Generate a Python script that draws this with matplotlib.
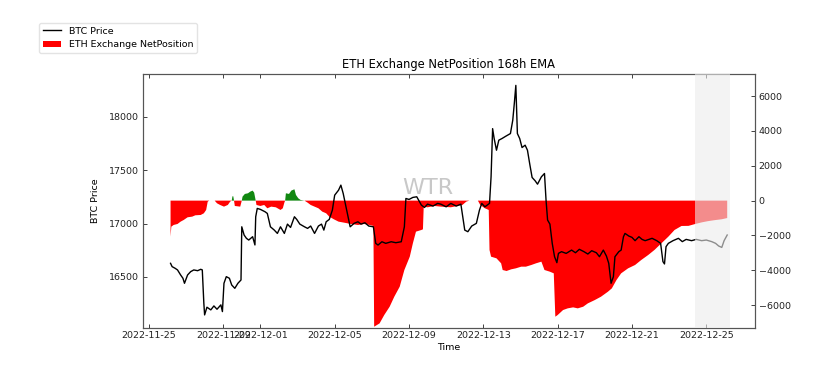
import matplotlib
matplotlib.use("Agg")
import matplotlib.pyplot as plt
import matplotlib.dates as mdates
import matplotlib.ticker as mticker
import numpy as np
import pandas as pd

# ---------------- data ----------------
start_time = "2022-11-26 04:00"

price_hours = [0, 2, 6, 9, 13, 16, 18, 22, 26, 30, 35, 39, 41, 43, 44, 47, 52, 56, 60, 65,
               67, 69, 72, 76, 79, 83, 87, 91, 92, 95, 98, 101, 106, 109, 110, 112, 116, 122,
               125, 129, 134, 138, 142, 147, 151, 155, 160, 163, 167, 173, 177, 181, 186, 191,
               195, 198, 201, 205, 209, 212, 217, 220, 223, 228, 232, 237, 242, 246, 251, 256,
               262, 265, 268, 273, 278, 285, 291, 298, 302, 304, 308, 313, 318, 324, 328, 332,
               339, 345, 349, 356, 362, 369, 375, 380, 384, 389, 395, 399, 402, 406, 412, 414,
               416, 418, 421, 424, 428, 433, 439, 442, 444, 446, 448, 451, 454, 458, 461, 464,
               467, 471, 474, 479, 483, 485, 487, 490, 493, 496, 499, 501, 505, 511, 518, 523,
               528, 534, 539, 544, 550, 554, 559, 563, 566, 569, 572, 574, 579, 582, 585, 587,
               592, 596, 600, 605, 609, 613, 618, 622, 628, 633, 636, 638, 640, 643, 649, 656,
               661, 666, 673, 679, 686, 692, 699, 704, 708, 712, 715, 719]
price_values = [16628, 16597, 16581, 16566, 16519, 16488, 16441, 16519, 16550, 16566, 16559,
                16572, 16566, 16254, 16145, 16217, 16192, 16229, 16198, 16239, 16176, 16441,
                16503, 16488, 16425, 16394, 16441, 16472, 16970, 16893, 16862, 16846, 16877,
                16800, 17064, 17142, 17133, 17111, 17095, 16970, 16939, 16908, 16970, 16908,
                16995, 16964, 17064, 17039, 16995, 16970, 16955, 16977, 16908, 16977, 16995,
                16939, 17017, 17039, 17126, 17266, 17313, 17360, 17282, 17111, 16970, 17002,
                17017, 16995, 17008, 16977, 16970, 16815, 16799, 16830, 16815, 16830, 16821,
                16830, 16970, 17235, 17226, 17245, 17251, 17173, 17151, 17182, 17164, 17189,
                17182, 17157, 17189, 17164, 17182, 16939, 16924, 16977, 17002, 17126, 17189,
                17157, 17189, 17438, 17889, 17796, 17687, 17781, 17796, 17818, 17843, 17967,
                18123, 18294, 17843, 17796, 17712, 17734, 17687, 17556, 17432, 17400, 17369,
                17438, 17469, 17220, 17033, 16995, 16815, 16690, 16634, 16721, 16737, 16721,
                16752, 16727, 16759, 16737, 16715, 16746, 16727, 16690, 16752, 16696, 16628,
                16441, 16503, 16690, 16737, 16752, 16877, 16908, 16883, 16871, 16840, 16877,
                16852, 16840, 16852, 16862, 16840, 16815, 16644, 16622, 16784, 16815, 16840,
                16862, 16831, 16852, 16840, 16852, 16840, 16846, 16831, 16815, 16790, 16777,
                16840, 16893]

net_hours = [0, 1, 4, 9, 13, 17, 22, 28, 32, 39, 43, 46, 48, 50, 57, 60, 64, 69, 74, 77,
             79, 80, 81, 82, 83, 90, 92, 93, 96, 100, 103, 106, 108, 110, 111, 116, 121, 125,
             130, 136, 142, 145, 147, 148, 149, 153, 156, 160, 162, 165, 168, 173, 177, 181,
             186, 191, 196, 201, 205, 211, 217, 224, 233, 242, 250, 257, 262, 263, 270, 276,
             283, 289, 296, 302, 309, 313, 317, 324, 326, 327, 332, 341, 349, 362, 377, 382,
             386, 397, 400, 406, 411, 412, 414, 421, 427, 429, 434, 440, 446, 453, 459, 466,
             472, 479, 483, 490, 495, 497, 500, 507, 513, 520, 526, 533, 539, 548, 556, 565,
             570, 576, 582, 591, 600, 608, 617, 625, 634, 643, 651, 660, 669, 677, 686, 694,
             703, 712, 719]
net_values = [-2069, -1494, -1398, -1341, -1207, -1111, -958, -919, -843, -824, -728, -536,
              -57, 0, 0, -153, -249, -345, -249, -57, 0, 250, 250, 0, -307, -345, 0, 230, 384,
              422, 518, 575, 460, 0, -249, -307, -249, -440, -345, -383, -536, -440, -115, 0,
              422, 384, 575, 652, 326, 134, 38, 0, -115, -249, -345, -440, -632, -728, -919,
              -1073, -1207, -1264, -1341, -1398, -1341, -1398, -1456, -7242, -7051, -6572,
              -6093, -5518, -4943, -3985, -3219, -2452, -1782, -1686, -1647, -345, -383, -307,
              -345, -383, -249, -57, 0, 0, -249, -440, -536, -2835, -3219, -3314, -3602, -3985,
              -4042, -3946, -3889, -3793, -3793, -3697, -3602, -3506, -3985, -4082, -4177,
              -6667, -6572, -6284, -6188, -6131, -6188, -6093, -5901, -5710, -5518, -5230,
              -5039, -4560, -4177, -3889, -3697, -3410, -3122, -2835, -2452, -2069, -1686,
              -1456, -1450, -1350, -1250, -1180, -1120, -1070, -1000]

shade_hours = [678, 722]

title = "ETH Exchange NetPosition 168h EMA"
price_label = "BTC Price"
net_label = "ETH Exchange NetPosition"
watermark = "WTR"

# ---------------- figure ----------------
plt.rcParams["font.family"] = ["DejaVu Sans"]
plt.rcParams["font.size"] = 6.8

start = pd.Timestamp(start_time)
t_price = mdates.date2num((start + pd.to_timedelta(price_hours, unit="h")).to_pydatetime())
t_net = mdates.date2num((start + pd.to_timedelta(net_hours, unit="h")).to_pydatetime())
t_shade = mdates.date2num((start + pd.to_timedelta(shade_hours, unit="h")).to_pydatetime())
net = np.array(net_values, dtype=float)

fig = plt.figure(figsize=(8.24, 3.79), dpi=100)
ax = fig.add_axes([0.1732, 0.1353, 0.7431, 0.6707])
ax2 = ax.twinx()

ax2.text(0.466, 0.55, watermark, transform=ax2.transAxes, fontsize=16,
         color="#c8c8c8", ha="center", va="center", zorder=0)
red = ax2.fill_between(t_net, 0, net, where=net <= 0, interpolate=True,
                       color="#ff0000", lw=0, zorder=2, label=net_label)
ax2.fill_between(t_net, 0, net, where=net >= 0, interpolate=True,
                 color="#118811", lw=0, zorder=2)

line, = ax.plot(t_price, price_values, color="black", lw=1.0, label=price_label, zorder=3)
ax.set_zorder(ax2.get_zorder() + 1)
ax.patch.set_visible(False)
ax.axvspan(t_shade[0], t_shade[1], color="#ebebeb", alpha=0.6, lw=0, zorder=6)

x0, x1 = t_price[0], t_price[-1]
pad = 0.05 * (x1 - x0)
ax.set_xlim(x0 - pad, x1 + pad)
ax.set_ylim(16025, 18405)
ax2.set_ylim(-7300, 7300)

ax.xaxis_date()
ax.xaxis.set_major_locator(mdates.DayLocator(bymonthday=[1, 5, 9, 13, 17, 21, 25, 29]))
ax.xaxis.set_major_formatter(mdates.DateFormatter("%Y-%m-%d"))
ax.yaxis.set_major_locator(mticker.MultipleLocator(500))
ax2.yaxis.set_major_locator(mticker.MultipleLocator(2000))

ax.tick_params(axis="x", direction="in", top=True, length=3, width=0.6, pad=2.5,
               colors="#222222")
ax.tick_params(axis="y", direction="in", length=3, width=0.6, pad=3, colors="#222222")
ax2.tick_params(axis="y", direction="in", length=3, width=0.6, pad=2.5, colors="#222222")

for a in (ax, ax2):
    for s in a.spines.values():
        s.set_color("#555555")
        s.set_linewidth(0.8)

ax.set_title(title, fontsize=8.3, pad=4)
ax.set_xlabel("Time", labelpad=2)
ax.set_ylabel(price_label, labelpad=6)

fig.legend(handles=[line, red], labels=[price_label, net_label], loc="upper left",
           bbox_to_anchor=(0.047, 0.94), borderaxespad=0, fontsize=6.8,
           frameon=True, edgecolor="#dddddd", fancybox=True)

fig.savefig("out.png", dpi=100)
